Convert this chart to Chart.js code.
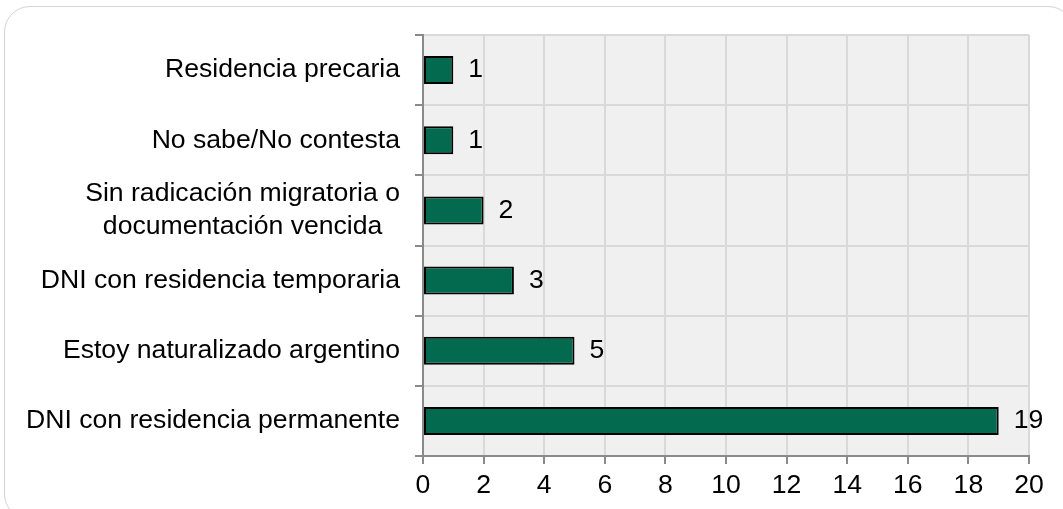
<!DOCTYPE html>
<html>
<head>
<meta charset="utf-8">
<script src="https://cdn.jsdelivr.net/npm/chart.js@4"></script>
<style>
  html, body { margin: 0; padding: 0; background: #fff; overflow: hidden; }
  #wrap { position: relative; width: 1063px; height: 509px; }
  #frame { position: absolute; left: 4px; top: 6px; width: 1070px; height: 514px; border: 1.5px solid #d4d4d4; border-radius: 26px; box-sizing: border-box; }
  canvas { position: absolute; left: 0; top: 0; }
</style>
</head>
<body>
<div id="wrap">
  <div id="frame"></div>
  <canvas id="chart" width="1063" height="509"></canvas>
</div>
<script>
const categories = [
  ['Residencia precaria'],
  ['No sabe/No contesta'],
  ['Sin radicación migratoria o', 'documentación vencida'],
  ['DNI con residencia temporaria'],
  ['Estoy naturalizado argentino'],
  ['DNI con residencia permanente']
];
const values = [1, 1, 2, 3, 5, 19];
const xTicks = [0, 2, 4, 6, 8, 10, 12, 14, 16, 18, 20];

const FONT = '"Liberation Sans", Arial, sans-serif';
const FSIZE = 26.6;

// fondo gris del area de trazado
const plotBgPlugin = {
  id: 'plotBg',
  beforeDraw(chart) {
    const { left, top, width, height } = chart.chartArea;
    const ctx = chart.ctx;
    ctx.save();
    ctx.fillStyle = '#f0f0f0';
    ctx.fillRect(left, top, width, height);
    ctx.restore();
  }
};

// etiquetas de categoria (multilinea centrada) y valores
const labelsPlugin = {
  id: 'labelsDraw',
  afterDraw(chart) {
    const ctx = chart.ctx;
    const yScale = chart.scales.y;
    const meta = chart.getDatasetMeta(0);
    ctx.save();
    ctx.font = FSIZE + 'px ' + FONT;
    ctx.fillStyle = '#000';
    ctx.textBaseline = 'middle';
    const right = yScale.right - 23;
    const lh = 33;
    categories.forEach((lines, i) => {
      const y = yScale.getPixelForValue(i);
      if (lines.length === 1) {
        ctx.textAlign = 'right';
        ctx.fillText(lines[0], right, y);
      } else {
        const w = Math.max(...lines.map(l => ctx.measureText(l).width));
        const cx = right - w / 2;
        ctx.textAlign = 'center';
        lines.forEach((l, k) => ctx.fillText(l, cx, y + (k - (lines.length - 1) / 2) * lh));
      }
    });
    ctx.textAlign = 'left';
    meta.data.forEach((bar, i) => {
      ctx.fillText(String(values[i]), bar.x + 15, bar.y);
    });
    ctx.restore();
  }
};

new Chart(document.getElementById('chart'), {
  type: 'bar',
  plugins: [plotBgPlugin, labelsPlugin],
  data: {
    labels: categories.map(c => c.join(' ')),
    datasets: [{
      data: values,
      backgroundColor: '#046a4f',
      borderColor: '#000',
      borderWidth: 2,
      borderSkipped: false,
      barPercentage: 0.4,
      categoryPercentage: 1
    }]
  },
  options: {
    indexAxis: 'y',
    responsive: false,
    animation: false,
    events: [],
    layout: { padding: { top: 35, right: 34, left: 0, bottom: 0 } },
    scales: {
      x: {
        min: 0, max: 20,
        afterBuildTicks: s => { s.ticks = xTicks.map(v => ({ value: v })); },
        afterFit: s => { s.height = 53; },
        grid: { color: '#d9d9d9', lineWidth: 2, tickColor: '#8a8a8a', tickLength: 8, drawTicks: true },
        border: { color: '#8a8a8a', width: 2 },
        ticks: { color: '#000', font: { size: FSIZE, family: FONT }, padding: 6, maxRotation: 0 }
      },
      y: {
        afterFit: s => { s.width = 423; },
        grid: { color: '#d9d9d9', lineWidth: 2, tickColor: '#8a8a8a', tickLength: 8, offset: true },
        border: { color: '#8a8a8a', width: 2 },
        ticks: { display: false }
      }
    },
    plugins: { legend: { display: false }, tooltip: { enabled: false }, title: { display: false } }
  }
});
</script>
</body>
</html>
